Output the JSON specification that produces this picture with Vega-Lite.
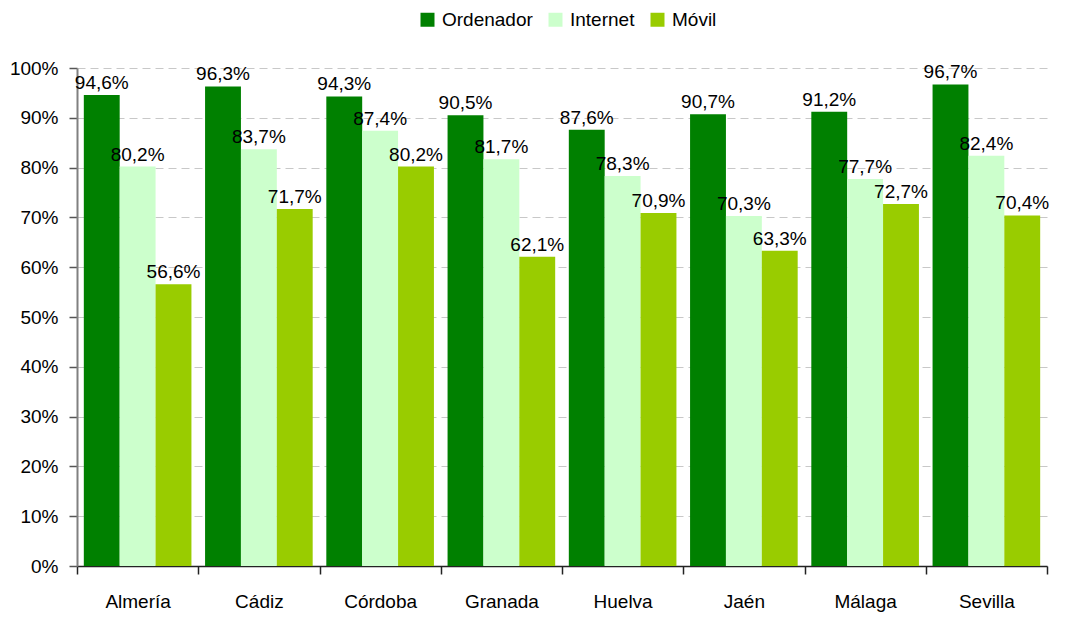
{
  "$schema": "https://vega.github.io/schema/vega-lite/v6.json",
  "autosize": "none",
  "width": 970,
  "height": 498,
  "padding": {"left": 77, "top": 68, "right": 19, "bottom": 51},
  "background": "white",
  "config": {
    "locale": {"number": {"decimal": ",", "thousands": ".", "grouping": [3], "currency": ["", " €"]}},
    "font": "Liberation Sans",
    "view": {"stroke": null}
  },
  "data": {
    "values": [
      {"provincia": "Almería", "serie": "Ordenador", "valor": 0.946},
      {"provincia": "Almería", "serie": "Internet", "valor": 0.802},
      {"provincia": "Almería", "serie": "Móvil", "valor": 0.566},
      {"provincia": "Cádiz", "serie": "Ordenador", "valor": 0.963},
      {"provincia": "Cádiz", "serie": "Internet", "valor": 0.837},
      {"provincia": "Cádiz", "serie": "Móvil", "valor": 0.717},
      {"provincia": "Córdoba", "serie": "Ordenador", "valor": 0.943},
      {"provincia": "Córdoba", "serie": "Internet", "valor": 0.874},
      {"provincia": "Córdoba", "serie": "Móvil", "valor": 0.802},
      {"provincia": "Granada", "serie": "Ordenador", "valor": 0.905},
      {"provincia": "Granada", "serie": "Internet", "valor": 0.817},
      {"provincia": "Granada", "serie": "Móvil", "valor": 0.621},
      {"provincia": "Huelva", "serie": "Ordenador", "valor": 0.876},
      {"provincia": "Huelva", "serie": "Internet", "valor": 0.783},
      {"provincia": "Huelva", "serie": "Móvil", "valor": 0.709},
      {"provincia": "Jaén", "serie": "Ordenador", "valor": 0.907},
      {"provincia": "Jaén", "serie": "Internet", "valor": 0.703},
      {"provincia": "Jaén", "serie": "Móvil", "valor": 0.633},
      {"provincia": "Málaga", "serie": "Ordenador", "valor": 0.912},
      {"provincia": "Málaga", "serie": "Internet", "valor": 0.777},
      {"provincia": "Málaga", "serie": "Móvil", "valor": 0.727},
      {"provincia": "Sevilla", "serie": "Ordenador", "valor": 0.967},
      {"provincia": "Sevilla", "serie": "Internet", "valor": 0.824},
      {"provincia": "Sevilla", "serie": "Móvil", "valor": 0.704}
    ]
  },
  "encoding": {
    "x": {
      "field": "provincia",
      "type": "nominal",
      "sort": null,
      "scale": {"paddingInner": 0, "paddingOuter": 0},
      "axis": {
        "title": null,
        "labelAngle": 0,
        "labelFontSize": 19,
        "labelColor": "#000000",
        "labelPadding": 18,
        "tickBand": "extent",
        "tickSize": 8,
        "tickColor": "#222222",
        "tickWidth": 1.5,
        "domainColor": "#222222",
        "domainWidth": 1.5,
        "grid": false
      }
    },
    "xOffset": {
      "field": "serie",
      "type": "nominal",
      "sort": ["Ordenador", "Internet", "Móvil"],
      "scale": {"paddingInner": 0, "paddingOuter": 0.19}
    },
    "y": {
      "field": "valor",
      "type": "quantitative",
      "scale": {"domain": [0, 1], "nice": false},
      "axis": {
        "title": null,
        "format": ".0%",
        "values": [0, 0.1, 0.2, 0.3, 0.4, 0.5, 0.6, 0.7, 0.8, 0.9, 1],
        "labelFontSize": 19,
        "labelColor": "#000000",
        "labelPadding": 11,
        "tickSize": 8,
        "tickColor": "#555555",
        "tickWidth": 1.5,
        "domainColor": "#808080",
        "domainWidth": 2,
        "grid": true,
        "gridColor": "#c8c8c8",
        "gridDash": [8, 5],
        "gridWidth": 1
      }
    }
  },
  "layer": [
    {
      "mark": {"type": "bar"},
      "encoding": {
        "color": {
          "field": "serie",
          "type": "nominal",
          "scale": {"domain": ["Ordenador", "Internet", "Móvil"], "range": ["#008000", "#CCFFCC", "#99CC00"]},
          "legend": {
            "title": null,
            "orient": "none",
            "direction": "horizontal",
            "legendX": 341,
            "legendY": -58,
            "padding": 0,
            "symbolType": "square",
            "symbolSize": 196,
            "symbolStrokeWidth": 0,
            "labelFontSize": 19,
            "labelColor": "#000000",
            "labelOffset": 5,
            "columnPadding": 13
          }
        }
      }
    },
    {
      "mark": {"type": "text", "baseline": "bottom", "dy": -2, "fontSize": 19, "color": "#000000"},
      "encoding": {
        "text": {"field": "valor", "type": "quantitative", "format": ".1%"}
      }
    }
  ]
}
